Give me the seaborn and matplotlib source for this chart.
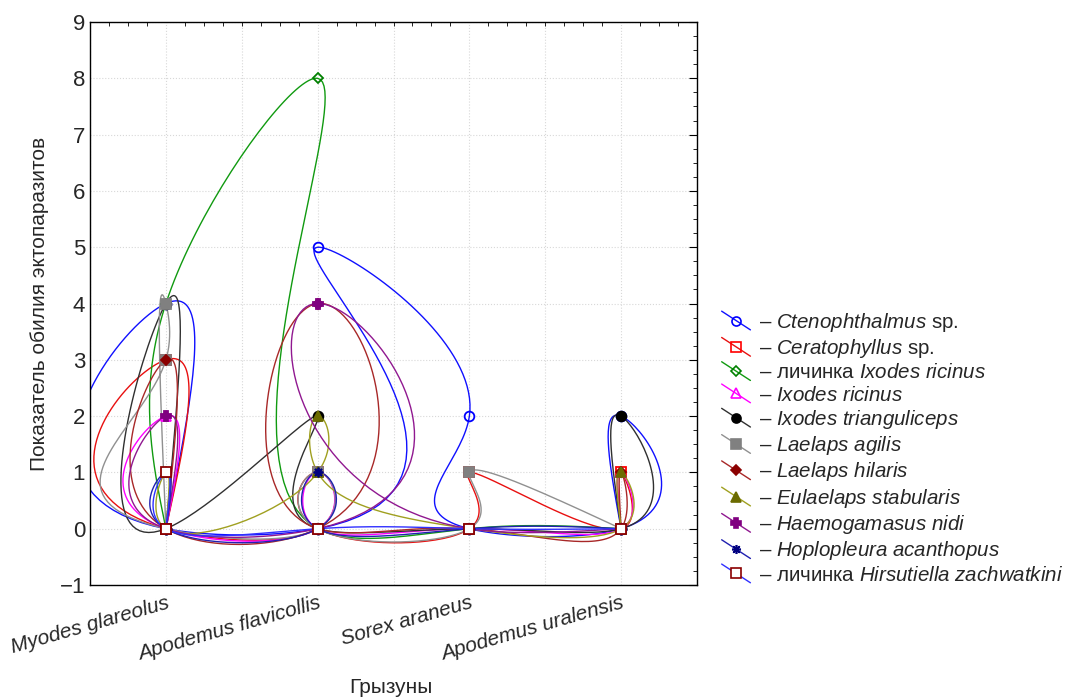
import numpy as np
import matplotlib
matplotlib.use("Agg")
import matplotlib.pyplot as plt
import seaborn as sns
from matplotlib.lines import Line2D
from matplotlib.legend_handler import HandlerBase
from matplotlib.ticker import MultipleLocator

# Rodents on the x axis
rodents = ["Myodes glareolus", "Apodemus flavicollis", "Sorex araneus", "Apodemus uralensis"]

# Order in which each series visits the rodents (index) and its abundance value
cten_cat = [0, 0, 0, 1, 1, 2, 2, 3, 3, 3]
cten_val = [0, 4, 0, 0, 5, 2, 0, 0, 2, 0]
cerat_cat = [0, 0, 0, 1, 1, 1, 2, 2, 3, 3, 3]
cerat_val = [0, 3, 0, 0, 1, 0, 0, 1, 0, 1, 0]
ixlarva_cat = [0, 0, 1, 1, 2, 3]
ixlarva_val = [0, 4, 8, 0, 0, 0]
ixric_cat = [0, 0, 0, 1, 1, 1, 2, 3, 3, 3]
ixric_val = [0, 2, 0, 0, 1, 0, 0, 0, 1, 0]
ixtri_cat = [0, 0, 0, 1, 1, 2, 3, 3, 3]
ixtri_val = [0, 4, 0, 2, 0, 0, 0, 2, 0]
lagilis_cat = [0, 0, 0, 0, 1, 1, 1, 2, 2, 3]
lagilis_val = [0, 4, 3, 0, 0, 1, 0, 0, 1, 0]
lhilaris_cat = [0, 0, 0, 1, 1, 1, 2, 3, 3, 3]
lhilaris_val = [0, 3, 0, 0, 4, 0, 0, 0, 1, 0]
eul_cat = [0, 0, 0, 1, 1, 1, 2, 3, 3, 3]
eul_val = [0, 1, 0, 1, 2, 1, 0, 0, 1, 0]
haem_cat = [0, 0, 0, 1, 1, 2, 3]
haem_val = [0, 2, 0, 0, 4, 0, 0]
hopl_cat = [0, 0, 0, 1, 1, 1, 2, 3]
hopl_val = [0, 1, 0, 0, 1, 0, 0, 0]
hirs_cat = [0, 0, 0, 1, 2, 3]
hirs_val = [0, 1, 0, 0, 0, 0]

labels = [
    "– $\\it{Ctenophthalmus}$ sp.",
    "– $\\it{Ceratophyllus}$ sp.",
    "– личинка $\\it{Ixodes\\ ricinus}$",
    "– $\\it{Ixodes\\ ricinus}$",
    "– $\\it{Ixodes\\ trianguliceps}$",
    "– $\\it{Laelaps\\ agilis}$",
    "– $\\it{Laelaps\\ hilaris}$",
    "– $\\it{Eulaelaps\\ stabularis}$",
    "– $\\it{Haemogamasus\\ nidi}$",
    "– $\\it{Hoplopleura\\ acanthopus}$",
    "– личинка $\\it{Hirsutiella\\ zachwatkini}$",
]

# (x, y, line colour, marker style, spline stiffness along y)
series = [
    (cten_cat, cten_val, "#1010ff", dict(marker="o", mfc="none", mec="#0000ff"), 150),
    (cerat_cat, cerat_val, "#e81010", dict(marker="s", mfc="none", mec="#ff0000"), 150),
    (ixlarva_cat, ixlarva_val, "#109a10", dict(marker="D", mfc="none", mec="#008000", ms=5), 60),
    (ixric_cat, ixric_val, "#ff00ff", dict(marker="^", mfc="none", mec="#ff00ff"), 150),
    (ixtri_cat, ixtri_val, "#303030", dict(marker="o", mfc="black", mec="black"), 150),
    (lagilis_cat, lagilis_val, "#909090", dict(marker="s", mfc="#808080", mec="#808080"), 150),
    (lhilaris_cat, lhilaris_val, "#a82828", dict(marker="D", mfc="#8b0000", mec="#8b0000", ms=5), 95),
    (eul_cat, eul_val, "#a0a020", dict(marker="^", mfc="#6b6b00", mec="#6b6b00"), 150),
    (haem_cat, haem_val, "#901890", dict(marker="P", mfc="#800080", mec="#800080"), 150),
    (hopl_cat, hopl_val, "#2020b0", dict(marker=(8, 2, 0), mfc="#000080", mec="#000080"), 150),
    (hirs_cat, hirs_val, "#3030ff", dict(marker="s", mfc="white", mec="#8b0000"), 150),
]


def nat_spline(t, v, n=40):
    k = len(t)
    h = np.diff(t)
    A = np.zeros((k, k))
    r = np.zeros(k)
    A[0, 0] = A[-1, -1] = 1
    for i in range(1, k - 1):
        A[i, i - 1] = h[i - 1]
        A[i, i] = 2 * (h[i - 1] + h[i])
        A[i, i + 1] = h[i]
        r[i] = 6 * ((v[i + 1] - v[i]) / h[i] - (v[i] - v[i - 1]) / h[i - 1])
    M = np.linalg.solve(A, r)
    out = []
    for i in range(k - 1):
        tt = t[i] + np.linspace(0, 1, n, endpoint=False) * h[i]
        a = t[i + 1] - tt
        b = tt - t[i]
        s = (M[i] * a ** 3 / (6 * h[i]) + M[i + 1] * b ** 3 / (6 * h[i])
             + (v[i] / h[i] - M[i] * h[i] / 6) * a + (v[i + 1] / h[i] - M[i + 1] * h[i] / 6) * b)
        out.append(s)
    out.append([v[-1]])
    return np.concatenate(out)


def smooth(cat, val, sy):
    x = np.array(cat, float)
    y = np.array(val, float)
    d = np.hypot(np.diff(x) * 151.7, np.diff(y) * sy)
    t = np.concatenate([[0], np.cumsum(d)])
    return nat_spline(t, x), nat_spline(t, y)


class DiagHandler(HandlerBase):
    def create_artists(self, legend, orig, xdescent, ydescent, width, height, fontsize, trans):
        x0, x1 = -xdescent, -xdescent + width
        y0, y1 = -ydescent - 0.15 * height, -ydescent + 1.15 * height
        line = Line2D([x0, x1], [y1, y0], color=orig.get_color(), lw=1.0, transform=trans)
        mk = Line2D([(x0 + x1) / 2], [(y0 + y1) / 2], ls="none", marker=orig.get_marker(),
                    mfc=orig.get_markerfacecolor(), mec=orig.get_markeredgecolor(),
                    ms=orig.get_markersize(), mew=orig.get_markeredgewidth(), transform=trans)
        return [line, mk]


sns.set_style("white")
plt.rcParams["font.family"] = ["Liberation Sans", "DejaVu Sans"]
plt.rcParams["mathtext.fontset"] = "custom"
plt.rcParams["mathtext.rm"] = "Liberation Sans"
plt.rcParams["mathtext.it"] = "Liberation Sans:italic"

fig = plt.figure(figsize=(10.68, 6.97), dpi=100)
ax = fig.add_axes([0.0843, 0.1607, 0.5683, 0.8077])

for cat, val, lc, mk, sy in series:
    cx, cy = smooth(cat, val, sy)
    sns.lineplot(x=cx, y=cy, sort=False, estimator=None, color=lc, lw=1.0, ax=ax)
for cat, val, lc, mk, sy in series:
    kw = dict(ms=7, mew=1.3)
    kw.update(mk)
    ax.plot(cat, val, ls="none", zorder=5, **kw)

ax.set_xlim(-0.5, 3.5)
ax.set_ylim(-1, 9)
ax.set_xticks(range(4))
ax.set_xticklabels(rodents, rotation=16, ha="right", va="top", rotation_mode="anchor",
                   fontstyle="italic", fontsize=15)
ax.xaxis.set_minor_locator(MultipleLocator(0.125))
ax.yaxis.set_major_locator(MultipleLocator(1))
ax.yaxis.set_minor_locator(MultipleLocator(0.25))
ax.tick_params(axis="y", labelsize=16)
ax.tick_params(which="both", direction="in", top=True, right=True, color="black")
ax.tick_params(which="major", length=6)
ax.tick_params(which="minor", length=3)
ax.tick_params(axis="x", which="major", length=0, pad=6)
for g in np.arange(-0.5, 3.6, 0.5):
    ax.axvline(g, color="#d8d8d8", lw=0.8, ls=":", zorder=0)
for g in range(-1, 10):
    ax.axhline(g, color="#d8d8d8", lw=0.8, ls=":", zorder=0)
for sp in ax.spines.values():
    sp.set_color("black")
    sp.set_linewidth(1.0)

ax.set_ylabel("Показатель обилия эктопаразитов", fontsize=15, labelpad=8)
fig.text(0.366, 0.013, "Грызуны", fontsize=15, ha="center", va="center")

handles = []
for s in series:
    kw = dict(ms=6.5, mew=1.2)
    kw.update(s[3])
    handles.append(Line2D([], [], color=s[2], lw=1.0, ls="-", **kw))
fig.legend(handles, labels, loc="upper left", bbox_to_anchor=(0.668, 0.566), frameon=False,
           fontsize=14.8, handlelength=1.4, handletextpad=0.4, labelspacing=0.16, borderaxespad=0,
           handler_map={Line2D: DiagHandler()})

fig.savefig("out.png", dpi=100)
